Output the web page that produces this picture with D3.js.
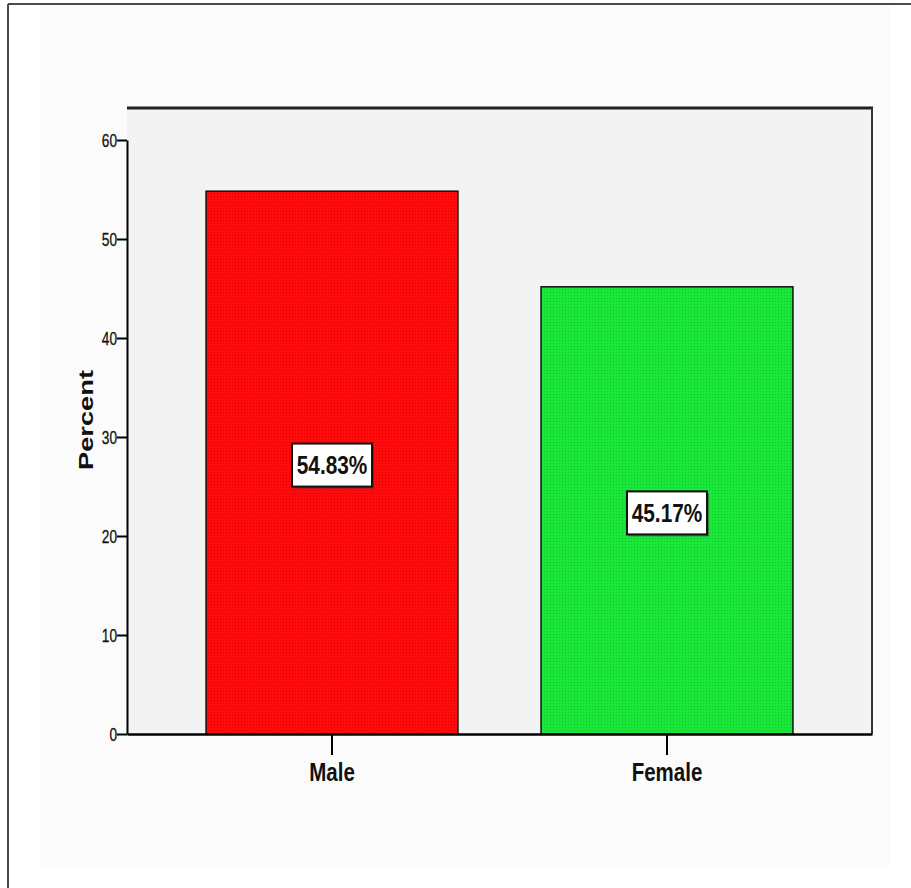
<!DOCTYPE html>
<html>
<head>
<meta charset="utf-8">
<script src="https://cdn.jsdelivr.net/npm/d3@7"></script>
<style>
  html, body { margin: 0; padding: 0; background: #ffffff; }
  svg { display: block; }
  text { font-family: "Liberation Sans", Arial, sans-serif; }
</style>
</head>
<body>
<script>
// Gender distribution (percent of respondents)
const categories = ["Male", "Female"];
const percents = [54.83, 45.17];
const valueLabels = ["54.83%", "45.17%"];
const yTicks = [0, 10, 20, 30, 40, 50, 60];
const barColors = ["#ff0b0b", "#1be63a"];
const dotColors = ["#dc0000", "#0fc52c"];

const W = 911, H = 888;
const plot = { left: 127, right: 872, top: 108, bottom: 734 };

const svg = d3.select("body").append("svg")
  .attr("width", W).attr("height", H);

// condensed lettering: squeeze a text horizontally around its anchor x
function condense(sel, f) {
  sel.each(function () {
    const t = d3.select(this);
    const x0 = +t.attr("x") || 0;
    t.attr("transform", `translate(${x0},0) scale(${f},1) translate(${-x0},0)`);
  });
}

// page frame: only the top and left edges are visible
svg.append("line").attr("x1", 8).attr("x2", W).attr("y1", 4).attr("y2", 4)
  .attr("stroke", "#4a4a4a").attr("stroke-width", 2);
svg.append("line").attr("x1", 8).attr("x2", 8).attr("y1", 4).attr("y2", H)
  .attr("stroke", "#4a4a4a").attr("stroke-width", 2);

// chart panel
svg.append("rect").attr("x", 40).attr("y", 6).attr("width", 850).attr("height", 861)
  .attr("fill", "#fbfbfb");

// dotted textures for the bars
const defs = svg.append("defs");
barColors.forEach((c, i) => {
  const p = defs.append("pattern").attr("id", "tex" + i)
    .attr("patternUnits", "userSpaceOnUse").attr("width", 3).attr("height", 3);
  p.append("rect").attr("width", 3).attr("height", 3).attr("fill", c);
  p.append("rect").attr("x", 1).attr("y", 1).attr("width", 1).attr("height", 1)
    .attr("fill", dotColors[i]);
});

const x = d3.scaleBand().domain(categories)
  .range([plot.left, plot.right]).paddingInner(0.248).paddingOuter(0.236);
const y = d3.scaleLinear().domain([0, 60])
  .range([plot.bottom, 140]);

// plot background
svg.append("rect").attr("x", plot.left).attr("y", plot.top)
  .attr("width", plot.right - plot.left).attr("height", plot.bottom - plot.top)
  .attr("fill", "#f3f3f3");

// bars
const data = categories.map((c, i) => ({ c, v: percents[i], label: valueLabels[i], i }));
svg.selectAll("rect.bar").data(data).join("rect").attr("class", "bar")
  .attr("x", d => x(d.c)).attr("width", x.bandwidth())
  .attr("y", d => y(d.v)).attr("height", d => y(0) - y(d.v))
  .attr("fill", d => `url(#tex${d.i})`)
  .attr("stroke", "#111").attr("stroke-width", 1.5);

// plot frame (top and right edges)
svg.append("line").attr("x1", plot.left).attr("x2", plot.right + 1)
  .attr("y1", plot.top).attr("y2", plot.top).attr("stroke", "#222").attr("stroke-width", 3);
svg.append("line").attr("x1", plot.right).attr("x2", plot.right)
  .attr("y1", plot.top).attr("y2", plot.bottom).attr("stroke", "#333").attr("stroke-width", 2);

// y axis
const yAxis = svg.append("g").attr("transform", `translate(${plot.left},0)`)
  .call(d3.axisLeft(y).tickValues(yTicks).tickSize(10).tickPadding(0).tickSizeOuter(0));
yAxis.select(".domain").attr("stroke", "#000").attr("stroke-width", 2);
yAxis.selectAll(".tick line").attr("stroke", "#000").attr("stroke-width", 2);
yAxis.selectAll(".tick text").attr("font-size", 19).attr("fill", "#111")
  .attr("stroke", "#111").attr("stroke-width", 0.3)
  .attr("dy", "0.36em").call(condense, 0.72);

// x axis
const xAxis = svg.append("g").attr("transform", `translate(0,${plot.bottom})`)
  .call(d3.axisBottom(x).tickSize(21).tickPadding(8).tickSizeOuter(0));
xAxis.select(".domain").attr("stroke", "#000").attr("stroke-width", 2.5);
xAxis.selectAll(".tick line").attr("stroke", "#000").attr("stroke-width", 2);
xAxis.selectAll(".tick text").attr("font-size", 25).attr("font-weight", "bold")
  .attr("fill", "#111").call(condense, 0.82);

// y axis title
svg.append("text")
  .attr("transform", `translate(93,420) rotate(-90)`)
  .attr("text-anchor", "middle").attr("font-size", 20).attr("font-weight", "bold")
  .attr("textLength", 100).attr("lengthAdjust", "spacingAndGlyphs")
  .attr("fill", "#111").text("Percent");

// value labels in boxes at bar mid-height
const lab = svg.selectAll("g.lab").data(data).join("g").attr("class", "lab")
  .attr("transform", d => `translate(${x(d.c) + x.bandwidth() / 2},${y(d.v / 2) + 2})`);
lab.append("rect").attr("x", -38).attr("y", -19).attr("width", 80).attr("height", 43)
  .attr("fill", "#333").attr("opacity", 0.5);
lab.append("rect").attr("x", -40).attr("y", -21).attr("width", 80).attr("height", 43)
  .attr("fill", "#ffffff").attr("stroke", "#111").attr("stroke-width", 2);
lab.append("text").attr("text-anchor", "middle").attr("dy", "0.36em")
  .attr("font-size", 26).attr("font-weight", "bold").attr("fill", "#111")
  .text(d => d.label).call(condense, 0.8);
</script>
</body>
</html>
